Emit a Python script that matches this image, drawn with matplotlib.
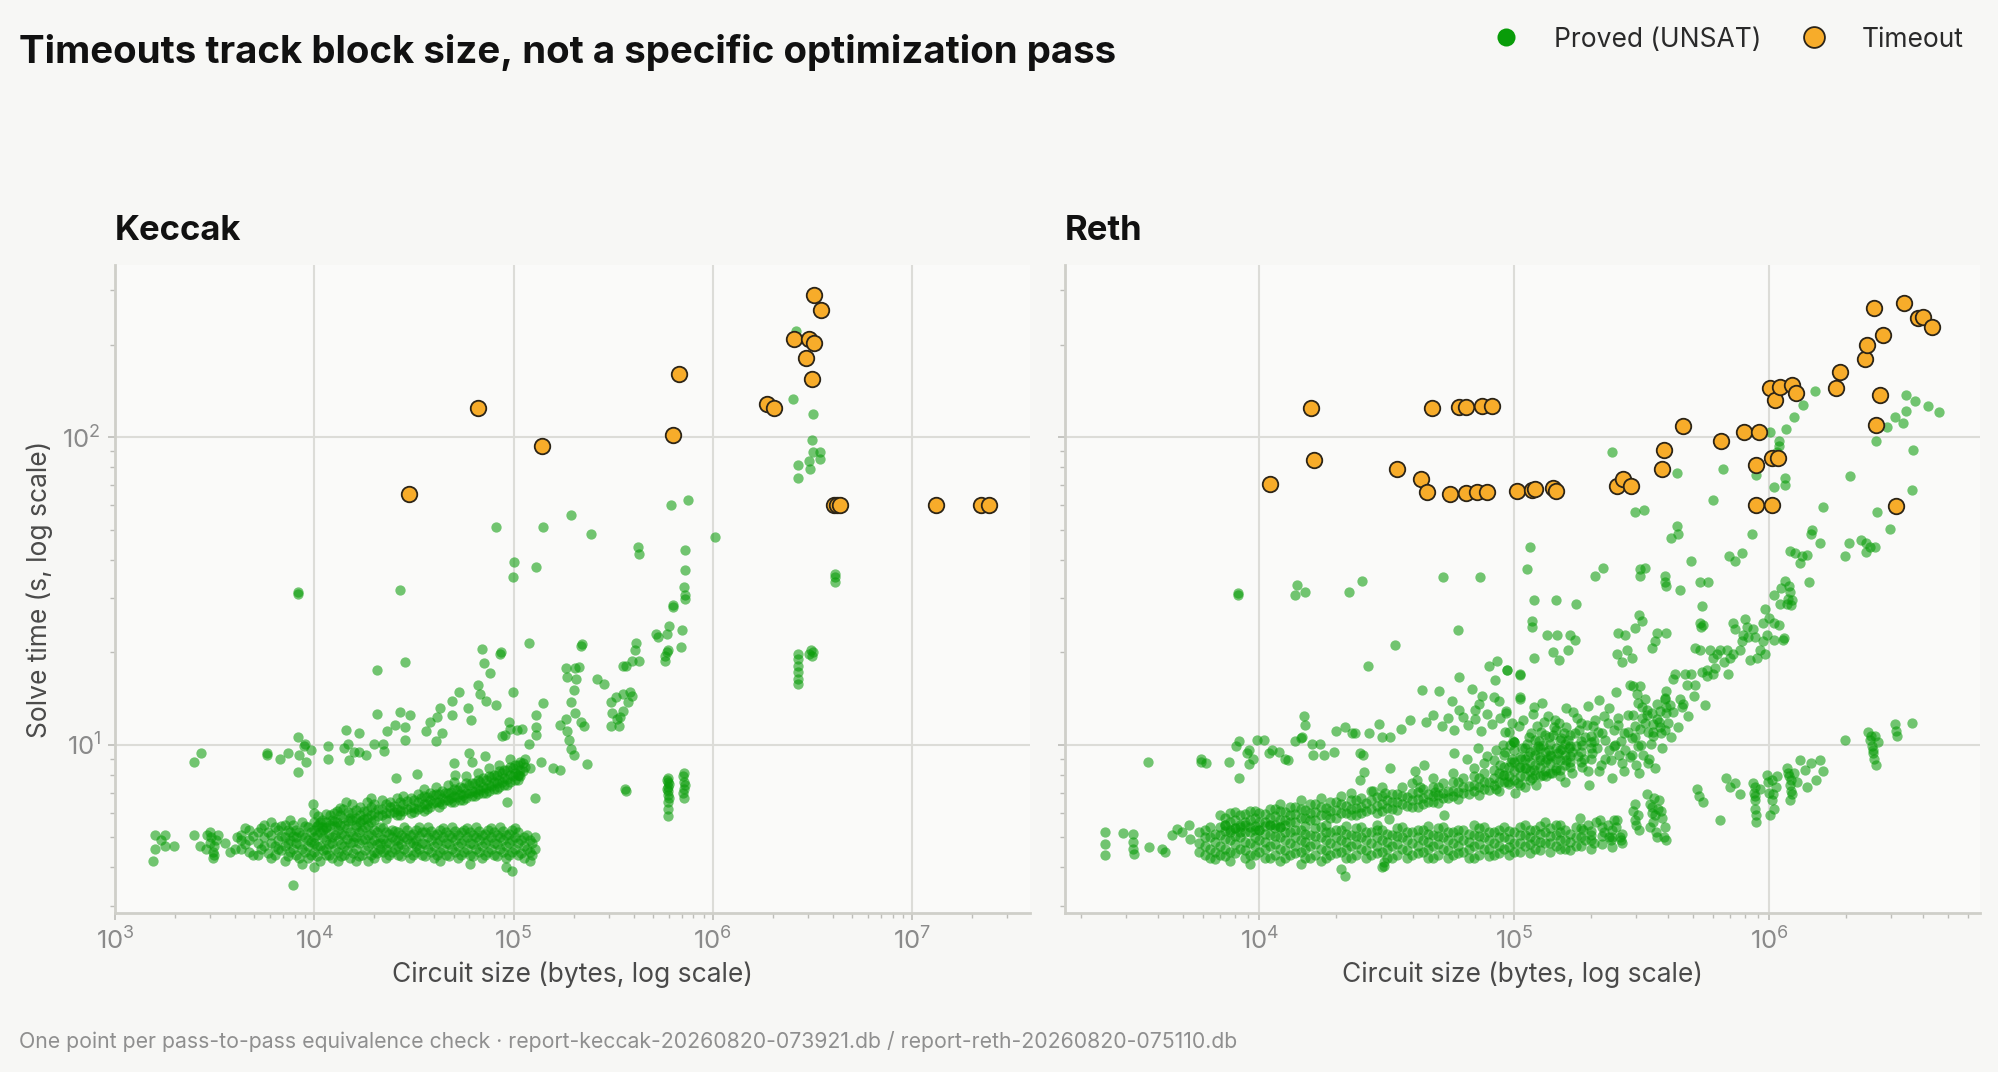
import numpy as np
import matplotlib
matplotlib.use('Agg')
import matplotlib.pyplot as plt
from matplotlib.lines import Line2D

#=== Data: (circuit size in bytes, solve time in s) ===

keccak_timeout = [
    (29900, 65.6), (66400, 124.8), (139000, 93.6), (673000, 160), (632000, 102),
    (1860000, 128.6), (2030000, 124.8), (2560000, 208), (3030000, 209), (3210000, 202),
    (2950000, 181), (3160000, 155), (3210000, 291), (3490000, 259),
    (4050000, 60.1), (4200000, 60.1), (4350000, 60.1), (13200000, 60.1),
    (22100000, 60), (24400000, 60),
]

keccak_sparse = [
    (1590, 5.1), (1590, 4.6), (1550, 4.2), (1780, 5.1), (1780, 4.7), (1980, 4.7), (1700, 4.9),
    (2500, 8.8), (2690, 9.4), (2500, 5.1), (2660, 4.7),
    (2900, 5.1), (3000, 4.8), (3100, 4.5), (3050, 5.0), (3150, 4.7), (3100, 4.3), (3000, 5.2),
    (3200, 4.9), (2850, 4.6), (3300, 5.1), (3550, 4.8), (3150, 4.4), (3800, 4.5), (4000, 4.6), (4100, 5.0),
    (5800, 9.3), (5800, 9.4), (6700, 9.0), (7400, 9.4), (8300, 10.6), (9000, 10.1), (9600, 9.6),
    (8400, 9.3), (8900, 9.9), (9100, 8.8), (8300, 8.15),
    (11700, 9.9), (11700, 9.0), (14400, 11.2), (14100, 9.8), (14700, 10.1), (15000, 8.9),
    (15800, 9.5), (16800, 10.9), (16800, 9.5), (18100, 9.3),
    (20000, 10.1), (20700, 12.6), (22200, 10.1), (22400, 9.55), (20700, 17.5), (23300, 11.1),
    (25400, 11.6), (26900, 12.8), (28700, 11.4), (28700, 10.4), (30400, 12.5), (28700, 18.6), (26800, 31.8),
    (8300, 31.0), (8300, 31.3),
    (36200, 11.1), (38300, 11.9), (40600, 10.3), (41200, 12.3), (43000, 13.2), (43800, 10.9),
    (49200, 12.5), (49200, 13.9), (53500, 14.9), (59000, 13.2), (61200, 12.0),
    (66000, 15.6), (67600, 14.6), (73000, 13.9), (81900, 13.5), (69500, 20.5), (70800, 18.5),
    (75900, 17.1), (85800, 19.8), (86500, 20.0), (99000, 14.9), (119000, 21.4),
    (130000, 12.5), (130000, 11.4), (141000, 13.7), (119000, 10.1), (130000, 10.8),
    (100000, 39.4), (98900, 35.1), (130000, 38.0),
    (50000, 8.7), (51000, 8.0), (59600, 9.4), (61900, 8.8), (72200, 9.2), (94400, 11.9),
    (96200, 11.3), (90800, 10.8), (87400, 10.7), (104000, 11.2), (110000, 11.3),
    (121000, 8.4), (137000, 8.8), (158000, 8.4), (171000, 8.3), (171000, 11.6), (128000, 6.7),
    (92600, 6.5), (106000, 8.0),
    (9900, 6.44), (14400, 6.5), (19200, 6.74), (25600, 7.8), (32600, 8.05), (7850, 3.5),
    (81500, 51.2), (140000, 51.0),
    (184000, 12.1), (186000, 11.1), (190000, 10.4), (195000, 9.7), (200000, 9.3), (219000, 11.9),
    (227000, 11.5), (204000, 12.7), (195000, 13.8), (200000, 15.1), (207000, 16.4), (186000, 16.6),
    (204000, 17.8), (184000, 17.8), (214000, 17.9), (219000, 21.0), (221000, 21.2),
    (234000, 8.65), (263000, 16.4), (286000, 15.8),
    (308000, 13.8), (327000, 14.3), (312000, 12.7), (330000, 12.1), (339000, 11.5), (354000, 12.9),
    (375000, 13.8), (394000, 14.4), (386000, 14.8), (354000, 14.6), (344000, 12.3), (310000, 11.5),
    (355000, 18.1), (366000, 18.1), (407000, 20.4), (414000, 21.4), (427000, 18.7), (394000, 18.8),
    (519000, 23.0), (533000, 22.5), (589000, 22.9), (602000, 24.3), (575000, 19.4), (590000, 20.0),
    (597000, 20.4), (577000, 18.7), (703000, 23.7), (693000, 20.8),
    (194000, 56), (245000, 48.5), (1020000, 47.5), (420000, 44), (428000, 41.6),
    (728000, 43), (728000, 37), (720000, 32.5), (728000, 30.6), (725000, 29.7), (630000, 28.5), (630000, 28.0),
    (754000, 62.5), (614000, 60.3),
    (363000, 7.2), (366000, 7.1),
    (597000, 7.83), (597000, 7.57), (597000, 7.32), (597000, 7.08), (597000, 6.85), (597000, 6.52),
    (597000, 6.2), (597000, 5.89), (590000, 7.7), (590000, 7.2), (600000, 6.7), (600000, 7.45),
    (718000, 8.1), (718000, 7.57), (718000, 7.2), (718000, 6.73), (710000, 7.9), (725000, 7.4), (712000, 7.0),
    (2670000, 19.7), (2670000, 19.0), (2670000, 18.1), (2670000, 17.2), (2670000, 16.4), (2670000, 15.8),
    (3120000, 20.4), (3050000, 19.7), (3200000, 20.0), (3150000, 19.5),
    (4100000, 36), (4100000, 33.9), (4100000, 35),
    (2540000, 133), (2630000, 222), (3200000, 119), (3160000, 98),
    (3180000, 89.8), (3440000, 89.6), (3050000, 83.4), (3440000, 84.9), (2670000, 81.3),
    (3090000, 78.8), (2670000, 73.8),
]

keccak_low_band = [
    (4300, 4.6), (4300, 5.1), (4300, 4.9), (4700, 5.3), (4700, 4.5), (4700, 4.9),
    (5200, 4.8), (5200, 5.2), (5200, 4.4), (5600, 5.5), (5600, 4.7), (5600, 5.0),
    (6100, 4.3), (6100, 5.1), (6100, 4.8), (6100, 5.6), (6600, 4.6), (6600, 5.3), (6600, 4.9),
    (7100, 4.2), (7100, 5.0), (7100, 5.5), (7100, 4.7), (7600, 4.5), (7600, 5.2), (7600, 4.9), (7600, 5.7),
    (8100, 4.4), (8100, 4.8), (8100, 5.3), (8100, 5.0), (8700, 4.1), (8700, 4.6), (8700, 5.1), (8700, 5.6),
    (9300, 4.9), (9300, 4.3), (9300, 5.4), (9300, 4.7), (10000, 4.0), (10000, 4.5), (10000, 5.0), (10000, 5.3), (10000, 4.8),
    (10700, 4.2), (10700, 4.7), (10700, 5.2), (10700, 5.6), (11500, 4.4), (11500, 4.9), (11500, 5.4), (11500, 4.6),
    (12300, 4.3), (12300, 5.0), (12300, 5.7), (12300, 4.8), (13200, 4.5), (13200, 4.9), (13200, 5.3), (13200, 4.2),
    (14100, 4.7), (14100, 5.1), (14100, 5.5), (14100, 4.4), (15100, 4.3), (15100, 4.8), (15100, 5.2), (15100, 5.8),
    (16200, 4.6), (16200, 5.0), (16200, 5.4), (16200, 4.2), (17400, 4.4), (17400, 4.9), (17400, 5.3), (17400, 5.7),
    (18600, 4.2), (18600, 4.7), (18600, 5.1), (18600, 5.5), (20000, 4.5), (20000, 4.9), (20000, 5.3), (20000, 4.3),
    (21400, 4.6), (21400, 5.0), (21400, 5.4), (21400, 4.8), (23000, 4.3), (23000, 4.8), (23000, 5.2), (23000, 4.6),
    (24600, 4.5), (24600, 5.0), (24600, 5.3), (26400, 4.4), (26400, 4.9), (26400, 5.2), (26400, 4.7),
    (28300, 4.6), (28300, 5.0), (28300, 5.4), (30300, 4.3), (30300, 4.8), (30300, 5.1),
    (32500, 4.5), (32500, 4.9), (32500, 5.3), (32500, 4.7), (34800, 4.4), (34800, 4.8), (34800, 5.2),
    (37300, 4.6), (37300, 5.0), (37300, 5.4), (40000, 4.3), (40000, 4.7), (40000, 5.1),
    (42900, 4.5), (42900, 4.9), (42900, 5.3), (42900, 4.2), (46000, 4.4), (46000, 4.8), (46000, 5.2),
    (49300, 4.6), (49300, 5.0), (49300, 5.4), (52800, 4.3), (52800, 4.7), (52800, 5.1),
    (56600, 4.5), (56600, 4.9), (56600, 5.3), (60700, 4.4), (60700, 4.8), (60700, 5.2), (60700, 4.1),
    (65000, 4.6), (65000, 5.0), (65000, 5.4), (69700, 4.3), (69700, 4.7), (69700, 5.1),
    (74700, 4.5), (74700, 4.9), (74700, 5.3), (80000, 4.4), (80000, 4.8), (80000, 5.2),
    (85800, 4.6), (85800, 5.0), (85800, 5.4), (92000, 4.3), (92000, 4.7), (92000, 5.1), (92000, 4.0),
    (98600, 4.5), (98600, 4.9), (98600, 5.3), (98600, 3.9), (105000, 4.4), (105000, 4.8), (105000, 5.2),
    (113000, 4.3), (113000, 4.7), (113000, 5.0), (121000, 4.5), (121000, 4.9), (121000, 4.2),
    (128000, 4.6), (128000, 5.0),
]

keccak_low_fill = [
    (4500, 4.75), (4500, 5.35), (4950, 4.4), (4950, 5.05), (5400, 4.6), (5400, 5.35), (5850, 4.45), (5850, 5.2),
    (6350, 4.7), (6350, 5.4), (6350, 4.4), (6850, 5.05), (6850, 4.55), (6850, 5.45), (7350, 4.8), (7350, 4.35), (7350, 5.3),
    (7850, 4.6), (7850, 5.05), (7850, 5.5), (8400, 4.3), (8400, 4.75), (8400, 5.2), (9000, 4.5), (9000, 5.0), (9000, 5.45),
    (9650, 4.4), (9650, 4.85), (9650, 5.2), (10350, 4.35), (10350, 4.7), (10350, 5.1), (10350, 5.45),
    (11100, 4.55), (11100, 5.0), (11100, 5.3), (11900, 4.4), (11900, 4.75), (11900, 5.15), (12750, 4.6), (12750, 5.1), (12750, 5.45),
    (13650, 4.35), (13650, 4.75), (13650, 5.15), (14600, 4.55), (14600, 4.95), (14600, 5.35), (15650, 4.45), (15650, 4.85), (15650, 5.05),
    (16800, 4.35), (16800, 4.8), (16800, 5.2), (18000, 4.55), (18000, 4.95), (18000, 5.4), (19300, 4.4), (19300, 4.8), (19300, 5.15),
    (20700, 4.45), (20700, 4.75), (20700, 5.2), (22200, 4.5), (22200, 4.95), (22200, 5.35), (23800, 4.4), (23800, 4.8), (23800, 5.15),
    (25500, 4.6), (25500, 4.9), (25500, 5.25), (27300, 4.35), (27300, 4.75), (27300, 5.1), (29300, 4.5), (29300, 4.95), (29300, 5.3),
    (31400, 4.4), (31400, 4.8), (31400, 5.15), (33600, 4.6), (33600, 5.05), (33600, 5.4), (36000, 4.35), (36000, 4.75), (36000, 5.2),
    (38600, 4.5), (38600, 4.9), (38600, 5.25), (41400, 4.4), (41400, 4.8), (41400, 5.15), (44400, 4.6), (44400, 5.0), (44400, 5.35),
    (47600, 4.35), (47600, 4.75), (47600, 5.1), (51000, 4.5), (51000, 4.9), (51000, 5.25), (54700, 4.4), (54700, 4.8), (54700, 5.2),
    (58600, 4.6), (58600, 5.0), (58600, 5.35), (62800, 4.35), (62800, 4.75), (62800, 5.1), (67300, 4.5), (67300, 4.9), (67300, 5.25),
    (72200, 4.4), (72200, 4.8), (72200, 5.15), (77300, 4.6), (77300, 5.0), (77300, 5.35), (82900, 4.35), (82900, 4.75), (82900, 5.1),
    (88900, 4.5), (88900, 4.9), (88900, 5.25), (95300, 4.4), (95300, 4.8), (95300, 5.15), (101500, 4.6), (101500, 5.0), (101500, 5.35),
    (109000, 4.45), (109000, 4.9), (117000, 4.6), (117000, 5.1), (124000, 4.4), (124000, 4.8),
]

keccak_high_band = [
    (10000, 5.6), (10000, 6.0), (11000, 5.7), (11000, 5.4), (12000, 5.9), (12000, 5.5),
    (13000, 6.1), (13000, 5.6), (14000, 5.8), (14000, 6.2), (15500, 5.7), (15500, 6.0), (15500, 6.4),
    (17000, 5.9), (17000, 6.3), (17000, 5.6), (18500, 6.1), (18500, 5.8), (18500, 6.5),
    (20000, 6.0), (20000, 6.4), (20000, 5.7), (22000, 6.2), (22000, 5.9), (22000, 6.6),
    (24000, 6.0), (24000, 6.5), (24000, 6.3), (26000, 6.2), (26000, 6.7), (26000, 5.9),
    (28000, 6.4), (28000, 6.1), (28000, 6.8), (30500, 6.3), (30500, 6.7), (30500, 6.0),
    (33000, 6.5), (33000, 6.9), (33000, 6.2), (35500, 6.4), (35500, 6.8), (35500, 6.1), (35500, 7.2),
    (38000, 6.6), (38000, 7.0), (38000, 6.3), (41000, 6.5), (41000, 6.9), (41000, 7.3),
    (44000, 6.7), (44000, 7.1), (44000, 6.4), (47000, 6.6), (47000, 7.0), (47000, 7.4),
    (50500, 6.8), (50500, 7.2), (50500, 6.5), (50500, 7.6), (54000, 6.9), (54000, 7.3), (54000, 6.6),
    (58000, 7.0), (58000, 7.5), (58000, 6.7), (58000, 7.9), (62000, 7.1), (62000, 7.5), (62000, 6.8),
    (66000, 7.2), (66000, 7.7), (66000, 6.9), (66000, 8.1), (70000, 7.3), (70000, 7.8), (70000, 7.0),
    (75000, 7.4), (75000, 7.9), (75000, 7.1), (75000, 8.4), (80000, 7.6), (80000, 8.0), (80000, 7.2),
    (85000, 7.7), (85000, 8.2), (85000, 7.3), (85000, 8.6), (90000, 7.8), (90000, 8.3), (90000, 7.4),
    (96000, 8.0), (96000, 8.5), (96000, 7.6), (96000, 9.0), (102000, 8.1), (102000, 8.6), (102000, 7.7),
    (108000, 8.3), (108000, 8.8), (108000, 7.9), (114000, 8.5), (114000, 9.0),
]

keccak_high_fill = [
    (10500, 5.5), (10500, 5.85), (11500, 5.6), (11500, 5.95), (11500, 5.35), (12500, 5.65), (12500, 6.0),
    (13500, 5.5), (13500, 5.9), (13500, 6.25), (14800, 5.65), (14800, 6.05), (16200, 5.8), (16200, 6.15), (16200, 5.5),
    (17700, 5.75), (17700, 6.1), (19200, 5.9), (19200, 6.3), (19200, 5.6), (21000, 5.85), (21000, 6.2),
    (23000, 6.0), (23000, 6.4), (23000, 5.75), (25000, 6.05), (25000, 6.35), (27000, 6.1), (27000, 6.5), (27000, 5.9),
    (29200, 6.2), (29200, 6.55), (31700, 6.25), (31700, 6.6), (31700, 6.05), (34200, 6.3), (34200, 6.7),
    (36800, 6.4), (36800, 6.75), (36800, 6.2), (39500, 6.45), (39500, 6.85), (42500, 6.5), (42500, 6.9), (42500, 6.3),
    (45500, 6.6), (45500, 7.0), (48700, 6.7), (48700, 7.05), (48700, 6.5), (52200, 6.75), (52200, 7.15),
    (56000, 6.85), (56000, 7.25), (56000, 6.6), (60000, 6.95), (60000, 7.4), (64000, 7.05), (64000, 7.5), (64000, 6.8),
    (68000, 7.15), (68000, 7.6), (72500, 7.25), (72500, 7.7), (72500, 7.0), (77500, 7.35), (77500, 7.85),
    (82500, 7.5), (82500, 8.0), (82500, 7.2), (87500, 7.6), (87500, 8.1), (93000, 7.75), (93000, 8.3), (93000, 7.4),
    (99000, 7.9), (99000, 8.4), (105000, 8.0), (105000, 8.6), (105000, 7.7), (111000, 8.2), (111000, 8.75),
]

reth_timeout = [
    (11000, 70.4), (15900, 124), (16400, 84.3), (34800, 79), (43000, 73.2), (45400, 66.2),
    (47400, 124.8), (56000, 65.6), (60500, 125.6), (64600, 125.6), (64600, 65.8), (71400, 66.4),
    (78000, 66.4), (74600, 126.5), (81500, 126.5), (102000, 66.7), (117000, 67.6), (120000, 67.8),
    (142000, 68.5), (146000, 66.9), (252000, 69.5), (267000, 73.3), (286000, 69.2),
    (378000, 78.9), (387000, 91.2), (460000, 108.6), (644000, 97), (794000, 104), (910000, 104),
    (887000, 81.5), (1020000, 85.8), (1080000, 85.8), (887000, 60.3), (1020000, 60.3),
    (1010000, 145), (1050000, 132), (1100000, 146), (1230000, 148), (1270000, 139),
    (1820000, 145), (1890000, 162.5), (2380000, 179.5), (2420000, 200), (2800000, 215),
    (2580000, 264), (3370000, 274), (3840000, 245), (3990000, 246), (4360000, 228),
    (2710000, 137), (2620000, 110), (3140000, 59.8),
]

reth_sparse = [
    (2490, 5.2), (2490, 4.76), (2490, 4.37), (2910, 5.17), (3200, 5.14), (3200, 4.83), (3200, 4.59),
    (3220, 4.43), (3680, 4.65), (4150, 4.59), (4270, 4.48), (4540, 5.08), (4750, 5.33), (4980, 5.2),
    (5280, 5.47), (5360, 4.95),
    (3660, 8.8), (5900, 9.0), (5900, 8.8), (6200, 8.7),
    (7600, 8.8), (8100, 9.9), (8300, 10.3), (8300, 7.8), (8950, 9.4), (9100, 9.6), (9400, 9.0),
    (9800, 10.4), (10400, 10.4), (10900, 9.4), (11200, 9.6), (11900, 9.5), (12600, 9.0), (13000, 8.9), (9100, 8.65),
    (13800, 10.3), (14500, 10.5), (14700, 10.6), (14900, 12.4), (15100, 11.6), (16100, 10.1), (16300, 9.3),
    (17300, 10.1), (17900, 9.3), (19700, 9.5), (19900, 11.1), (21700, 11.4), (23100, 10.9), (23800, 10.9),
    (24900, 9.4), (25500, 9.3), (25700, 8.14), (24900, 7.68), (26800, 10.9), (29400, 11.7), (30300, 10.6),
    (32600, 10.6), (32600, 8.4), (40900, 8.2), (44100, 8.6), (41500, 7.68), (42800, 7.3),
    (8250, 30.8), (8250, 31.1), (14100, 33), (13800, 30.7), (15100, 31.5), (22500, 31.3), (25300, 34.2),
    (52500, 35.1), (73100, 35.2), (60100, 23.7), (34100, 21.1), (26700, 18.0),
    (79200, 18.1), (85500, 18.8), (93600, 17.5), (84100, 16.3), (60500, 16.6), (68200, 15.2), (43400, 15.1),
    (50500, 15.0), (57000, 13.9), (74600, 14.4), (83000, 14.3), (86900, 13.9), (72400, 13.6), (60500, 13.0),
    (70300, 13.0), (93100, 12.7), (105000, 14.3), (105000, 16.9),
    (45000, 11.9), (48000, 12.5), (52000, 11.5), (55000, 12.2), (58000, 11.2), (63000, 12.3), (66000, 11.6),
    (70000, 12.1), (74000, 11.1), (78000, 12.6), (82000, 11.7), (88000, 12.2), (92000, 11.0), (98000, 11.8),
    (36000, 11.3), (39000, 12.0), (99000, 10.3), (90000, 10.0), (85000, 9.6), (78000, 9.2), (72000, 9.8),
    (65000, 9.0), (58000, 9.4),
    (49000, 7.03), (52800, 5.9), (32100, 5.75), (28000, 7.1), (31200, 6.95),
    (21600, 3.74), (30800, 4.05), (30800, 4.15),
    (1510000, 141.5), (1350000, 127), (1250000, 116), (1160000, 106), (1090000, 97.3), (1090000, 93.5),
    (1070000, 89.3), (1010000, 104), (887000, 75.4), (1040000, 68.7), (1150000, 73.8), (1150000, 69.8),
    (1630000, 59.4), (1470000, 49.8), (1450000, 48.6), (1580000, 45.4),
    (1200000, 42.7), (1260000, 42.0), (1340000, 41.1), (1400000, 41.3), (1320000, 38.9), (1430000, 33.9),
    (1150000, 34.2), (1190000, 32.9), (1200000, 31.4), (1180000, 29.7), (1110000, 32.4), (1040000, 30.6),
    (1100000, 28.6), (1170000, 28.6), (1220000, 28.5), (1230000, 29.5),
    (961000, 27.7), (1000000, 25.9), (1040000, 24.9), (946000, 24.9), (1140000, 22.3), (1090000, 24.5),
    (723000, 24.9), (733000, 23.8), (803000, 25.7), (820000, 24.2), (865000, 23.8), (879000, 22.4),
    (828000, 22.4), (791000, 22.7), (779000, 21.7), (946000, 21.7), (982000, 22.7), (1040000, 22.0),
    (1135000, 22.0), (918000, 20.4), (961000, 19.8), (891000, 19.2), (839000, 18.9), (767000, 20.4),
    (723000, 19.8), (701000, 19.2), (681000, 20.4), (641000, 20.4), (621000, 19.8), (603000, 19.2),
    (585000, 20.4), (661000, 18.6), (691000, 17.0), (612000, 17.8), (568000, 16.7), (603000, 17.0),
    (495000, 17.0), (474000, 15.7), (467000, 17.0), (427000, 17.0), (395000, 15.0), (420000, 16.4),
    (543000, 17.2), (512000, 15.7), (560000, 13.5),
    (390000, 14.1), (408000, 13.5), (446000, 14.1), (453000, 13.3), (372000, 12.9), (395000, 13.3),
    (361000, 12.1), (372000, 11.4), (390000, 11.2), (346000, 12.7), (325000, 14.1), (330000, 12.5),
    (349000, 11.7), (335000, 11.0), (351000, 10.7), (311000, 15.5), (302000, 14.6), (291000, 15.5),
    (306000, 13.7), (316000, 13.3), (293000, 12.5),
    (256000, 23.1), (272000, 22.7), (252000, 19.8), (264000, 18.6), (276000, 20.4), (288000, 19.2),
    (309000, 26.5), (316000, 25.3), (297000, 23.9), (361000, 23.1), (356000, 21.7), (346000, 20.7),
    (395000, 23.1), (512000, 20.7), (535000, 24.9), (551000, 24.5), (535000, 20.4), (568000, 17.5),
    (207000, 35.5), (223000, 37.5), (175000, 28.6), (146000, 29.5), (119000, 29.5), (117000, 25.3),
    (117000, 24.2), (134000, 22.7), (147000, 22.7), (165000, 22.7), (173000, 22.0), (163000, 20.4),
    (142000, 20.1), (149000, 18.9), (119000, 19.2), (105000, 17.0), (105000, 14.1), (119000, 13.3),
    (92700, 12.9), (93300, 17.5),
    (115000, 44), (112000, 37.2), (241000, 89.3), (297000, 57.1), (322000, 58.1), (433000, 76.6),
    (436000, 51.3), (440000, 48.3), (410000, 47.1), (492000, 39.5), (603000, 62.7), (656000, 79),
    (857000, 48.3), (693000, 41.1), (733000, 39.5), (779000, 42.0),
    (446000, 31.8), (535000, 33.9), (577000, 33.9), (543000, 28.2), (540000, 24.2),
    (390000, 35.5), (392000, 32.9), (388000, 33.9), (325000, 37.5), (311000, 35.5), (311000, 37.2),
    (2070000, 75), (2620000, 97.3), (3650000, 90.6), (3610000, 67.6),
    (3110000, 116.6), (3440000, 122), (2900000, 108), (3330000, 111),
    (3440000, 137), (3720000, 131), (4200000, 126), (4640000, 120.6),
    (2640000, 57.3), (2960000, 50.2),
    (2060000, 45.4), (2290000, 46.5), (2390000, 45.4), (2480000, 44.0), (2600000, 44.0), (2390000, 42.5),
    (1980000, 41.1),
]

reth_low_band = [
    (5800, 4.8), (5800, 5.2), (5800, 4.5), (6400, 5.0), (6400, 4.6), (6400, 5.4), (6400, 4.3),
    (7000, 4.7), (7000, 5.1), (7000, 4.4), (7700, 4.9), (7700, 5.3), (7700, 4.5), (7700, 4.2),
    (8400, 4.6), (8400, 5.0), (8400, 5.4), (9200, 4.8), (9200, 5.2), (9200, 4.4), (9200, 4.1),
    (10000, 4.5), (10000, 4.9), (10000, 5.3), (11000, 4.7), (11000, 5.1), (11000, 4.3), (11000, 5.5),
    (12000, 4.6), (12000, 5.0), (12000, 5.4), (12000, 4.2), (13200, 4.8), (13200, 5.2), (13200, 4.4),
    (14500, 4.5), (14500, 4.9), (14500, 5.3), (14500, 4.1), (15800, 4.7), (15800, 5.1), (15800, 4.3),
    (17400, 4.6), (17400, 5.0), (17400, 5.4), (17400, 4.2), (19000, 4.8), (19000, 5.2), (19000, 4.4),
    (20900, 4.5), (20900, 4.9), (20900, 5.3), (20900, 3.95), (22900, 4.7), (22900, 5.1), (22900, 4.3),
    (25100, 4.6), (25100, 5.0), (25100, 5.4), (27500, 4.8), (27500, 5.2), (27500, 4.4),
    (30200, 4.5), (30200, 4.9), (30200, 5.3), (30200, 4.0), (33100, 4.7), (33100, 5.1), (33100, 4.3),
    (36300, 4.6), (36300, 5.0), (36300, 5.4), (39800, 4.8), (39800, 5.2), (39800, 4.4),
    (43700, 4.5), (43700, 4.9), (43700, 5.3), (47900, 4.7), (47900, 5.1), (47900, 4.3),
    (52500, 4.6), (52500, 5.0), (52500, 5.4), (57500, 4.8), (57500, 5.2), (57500, 4.4),
    (63100, 4.5), (63100, 4.9), (63100, 5.3), (69200, 4.7), (69200, 5.1), (69200, 4.3), (69200, 5.5),
    (75900, 4.6), (75900, 5.0), (75900, 5.4), (83200, 4.8), (83200, 5.2), (83200, 4.4),
    (91200, 4.6), (91200, 5.0), (91200, 5.4), (100000, 4.8), (100000, 5.2), (100000, 4.5),
    (110000, 4.7), (110000, 5.1), (110000, 5.5), (120000, 4.9), (120000, 5.3), (120000, 4.6),
    (132000, 4.8), (132000, 5.2), (132000, 5.6), (145000, 4.7), (145000, 5.1), (145000, 5.5),
    (158000, 4.9), (158000, 5.3), (158000, 4.6), (174000, 5.0), (174000, 5.4), (174000, 4.7),
    (181000, 5.8), (186000, 5.3), (190000, 4.9), (195000, 5.5), (200000, 5.1), (205000, 4.8), (209000, 5.6),
    (217000, 5.7), (225000, 5.2), (232000, 5.5), (240000, 4.9), (250000, 5.4), (259000, 5.0),
    (293000, 6.1), (298000, 5.7), (305000, 5.9), (309000, 5.3),
    (330000, 6.9), (340000, 6.4), (345000, 6.0), (350000, 5.6), (360000, 5.2), (370000, 6.6),
    (380000, 5.8), (390000, 5.4), (395000, 4.9), (352000, 6.7), (365000, 6.2),
    (519000, 7.2), (530000, 6.8), (551000, 6.5), (641000, 5.7),
    (677000, 7.8), (700000, 7.3), (730000, 7.5), (767000, 6.9),
    (866000, 7.5), (870000, 7.0), (875000, 6.6), (880000, 6.2), (885000, 5.9), (890000, 5.6), (918000, 7.2),
    (977000, 8.0), (990000, 7.6), (1000000, 7.0), (1020000, 6.6), (1040000, 6.2), (1060000, 7.3),
    (1070000, 7.9), (1010000, 5.9),
    (1170000, 8.4), (1190000, 7.9), (1210000, 7.4), (1230000, 6.9), (1250000, 8.1), (1280000, 7.6),
    (1200000, 6.6), (1220000, 7.1),
    (1320000, 8.9), (1380000, 8.3), (1450000, 8.7), (1520000, 7.7), (1580000, 8.9), (1620000, 8.2), (1400000, 7.3),
    (1980000, 10.4),
    (2440000, 11.0), (2480000, 10.4), (2520000, 9.9), (2550000, 9.4), (2580000, 9.0), (2620000, 8.6),
    (2670000, 10.2), (2600000, 10.7),
    (3110000, 11.7), (3130000, 11.1), (3160000, 10.7), (3610000, 11.8),
    (340000, 5.4), (345000, 6.3), (355000, 5.9), (362000, 5.0), (375000, 6.1), (385000, 5.0),
    (300000, 5.5), (296000, 6.4), (252000, 5.7), (262000, 4.9), (236000, 5.0), (245000, 5.7),
    (875000, 7.3), (880000, 6.8), (1020000, 7.7), (1030000, 6.9), (1180000, 8.1), (1220000, 7.7),
    (2500000, 10.7), (2560000, 9.6),
]

reth_low_fill = [
    (6100, 4.4), (6100, 4.7), (6100, 5.0), (6100, 5.3), (6700, 4.5), (6700, 4.85), (6700, 5.15), (6700, 4.25),
    (7350, 4.35), (7350, 4.6), (7350, 4.95), (7350, 5.25), (7350, 5.5), (8050, 4.45), (8050, 4.75), (8050, 5.05), (8050, 5.35),
    (8800, 4.3), (8800, 4.55), (8800, 4.85), (8800, 5.2), (8800, 5.5), (9600, 4.4), (9600, 4.7), (9600, 5.0), (9600, 5.3),
    (10500, 4.3), (10500, 4.6), (10500, 4.85), (10500, 5.15), (10500, 5.45), (11500, 4.4), (11500, 4.75), (11500, 5.05), (11500, 5.35),
    (12600, 4.3), (12600, 4.55), (12600, 4.9), (12600, 5.2), (12600, 5.5), (13850, 4.45), (13850, 4.7), (13850, 5.0), (13850, 5.3),
    (15150, 4.3), (15150, 4.6), (15150, 4.85), (15150, 5.15), (15150, 5.45), (16600, 4.4), (16600, 4.75), (16600, 5.05), (16600, 5.35),
    (18200, 4.3), (18200, 4.55), (18200, 4.9), (18200, 5.2), (18200, 5.5), (19950, 4.45), (19950, 4.7), (19950, 5.0), (19950, 5.3),
    (21900, 4.3), (21900, 4.6), (21900, 4.85), (21900, 5.15), (21900, 5.45), (24000, 4.4), (24000, 4.75), (24000, 5.05), (24000, 5.35),
    (26300, 4.3), (26300, 4.55), (26300, 4.9), (26300, 5.2), (28850, 4.45), (28850, 4.7), (28850, 5.0), (28850, 5.3), (28850, 5.5),
    (31650, 4.3), (31650, 4.6), (31650, 4.85), (31650, 5.15), (34700, 4.4), (34700, 4.75), (34700, 5.05), (34700, 5.35),
    (38050, 4.3), (38050, 4.55), (38050, 4.9), (38050, 5.2), (41750, 4.45), (41750, 4.7), (41750, 5.0), (41750, 5.3),
    (45800, 4.3), (45800, 4.6), (45800, 4.85), (45800, 5.15), (45800, 5.45), (50200, 4.4), (50200, 4.75), (50200, 5.05), (50200, 5.35),
    (55000, 4.3), (55000, 4.55), (55000, 4.9), (55000, 5.2), (60300, 4.45), (60300, 4.7), (60300, 5.0), (60300, 5.3),
    (66100, 4.3), (66100, 4.6), (66100, 4.85), (66100, 5.15), (72500, 4.4), (72500, 4.75), (72500, 5.05), (72500, 5.35),
    (79500, 4.35), (79500, 4.6), (79500, 4.9), (79500, 5.2), (87200, 4.45), (87200, 4.7), (87200, 5.0), (87200, 5.3),
    (95500, 4.4), (95500, 4.65), (95500, 4.95), (95500, 5.25), (105000, 4.5), (105000, 4.8), (105000, 5.1), (105000, 5.4),
    (115000, 4.45), (115000, 4.75), (115000, 5.0), (115000, 5.3), (126000, 4.55), (126000, 4.85), (126000, 5.15), (126000, 5.45),
    (138000, 4.5), (138000, 4.8), (138000, 5.05), (138000, 5.35), (151000, 4.6), (151000, 4.9), (151000, 5.2), (151000, 5.5),
    (166000, 4.55), (166000, 4.85), (166000, 5.15), (182000, 4.7), (182000, 5.0), (182000, 5.35),
    (200000, 4.6), (200000, 4.9), (200000, 5.25), (220000, 4.75), (220000, 5.05), (220000, 5.4),
    (242000, 4.65), (242000, 5.0), (242000, 5.3), (265000, 4.8), (265000, 5.15),
]

reth_high_band = [
    (7000, 5.4), (7000, 5.9), (7700, 5.6), (7700, 5.2), (7700, 6.0), (8400, 5.5), (8400, 5.9), (8400, 5.2),
    (9200, 5.7), (9200, 6.1), (9200, 5.4), (10000, 5.6), (10000, 6.0), (10000, 5.3),
    (11000, 5.8), (11000, 6.2), (11000, 5.5), (12000, 5.7), (12000, 6.1), (12000, 5.4), (12000, 6.4),
    (13200, 5.9), (13200, 6.3), (13200, 5.6), (14500, 5.8), (14500, 6.2), (14500, 6.6),
    (15800, 6.0), (15800, 6.4), (15800, 5.7), (17400, 5.9), (17400, 6.3), (17400, 6.7),
    (19000, 6.1), (19000, 6.5), (19000, 5.8), (20900, 6.0), (20900, 6.4), (20900, 6.8),
    (22900, 6.2), (22900, 6.6), (22900, 5.9), (22900, 7.0), (25100, 6.3), (25100, 6.7), (25100, 6.0),
    (27500, 6.2), (27500, 6.6), (27500, 7.1), (30200, 6.4), (30200, 6.8), (30200, 6.1), (30200, 7.3),
    (33100, 6.5), (33100, 6.9), (33100, 6.2), (36300, 6.4), (36300, 6.8), (36300, 7.3),
    (39800, 6.6), (39800, 7.0), (39800, 6.3), (39800, 7.5), (43700, 6.7), (43700, 7.2), (43700, 6.4),
    (47900, 6.8), (47900, 7.3), (47900, 7.8), (47900, 6.5), (52500, 7.0), (52500, 7.5), (52500, 6.7),
    (57500, 7.1), (57500, 7.6), (57500, 8.1), (57500, 6.8), (63100, 7.3), (63100, 7.8), (63100, 7.0),
    (69200, 7.4), (69200, 7.9), (69200, 8.4), (69200, 7.1), (75900, 7.6), (75900, 8.1), (75900, 7.2), (75900, 8.7),
    (83200, 7.8), (83200, 8.3), (83200, 7.4), (83200, 8.9), (91200, 8.0), (91200, 8.5), (91200, 7.6), (91200, 9.3),
    (100000, 8.2), (100000, 8.8), (100000, 7.7), (100000, 9.6), (100000, 10.2),
    (110000, 8.4), (110000, 9.0), (110000, 7.9), (110000, 9.8), (120000, 8.6), (120000, 9.3), (120000, 8.0), (120000, 10.4),
    (132000, 8.8), (132000, 9.5), (132000, 8.2), (132000, 10.8), (145000, 9.0), (145000, 9.8), (145000, 8.4), (145000, 11.2),
    (158000, 9.3), (158000, 10.1), (158000, 8.6),
]

reth_high_fill = [
    (7350, 5.5), (7350, 5.8), (8050, 5.35), (8050, 5.7), (8050, 6.05), (8800, 5.6), (8800, 5.95),
    (9600, 5.45), (9600, 5.8), (9600, 6.1), (10500, 5.6), (10500, 5.95), (11500, 5.5), (11500, 5.85), (11500, 6.2),
    (12600, 5.7), (12600, 6.05), (13850, 5.6), (13850, 5.95), (13850, 6.3), (15150, 5.8), (15150, 6.15),
    (16600, 5.7), (16600, 6.05), (16600, 6.4), (18200, 5.9), (18200, 6.25), (19950, 5.8), (19950, 6.15), (19950, 6.5),
    (21900, 6.0), (21900, 6.35), (24000, 5.9), (24000, 6.25), (24000, 6.6), (26300, 6.1), (26300, 6.45),
    (28850, 6.0), (28850, 6.35), (28850, 6.75), (31650, 6.25), (31650, 6.6), (34700, 6.15), (34700, 6.5), (34700, 6.9),
    (38050, 6.35), (38050, 6.75), (41750, 6.3), (41750, 6.65), (41750, 7.05), (45800, 6.5), (45800, 6.9),
    (50200, 6.45), (50200, 6.85), (50200, 7.3), (55000, 6.7), (55000, 7.1), (60300, 6.65), (60300, 7.05), (60300, 7.55),
    (66100, 6.9), (66100, 7.35), (72500, 6.85), (72500, 7.3), (72500, 7.8), (79500, 7.15), (79500, 7.6),
    (87200, 7.1), (87200, 7.55), (87200, 8.1), (95500, 7.45), (95500, 7.95), (95500, 8.5),
    (105000, 7.4), (105000, 7.9), (105000, 8.45), (105000, 9.1), (115000, 7.7), (115000, 8.2), (115000, 8.8), (115000, 9.5),
    (126000, 7.9), (126000, 8.45), (126000, 9.1), (126000, 9.8), (138000, 8.1), (138000, 8.7), (138000, 9.3), (138000, 10.1),
    (151000, 8.3), (151000, 8.9), (151000, 9.6), (151000, 10.4), (166000, 8.5), (166000, 9.2), (166000, 9.9), (166000, 10.8),
    (182000, 8.8), (182000, 9.5), (182000, 10.3), (200000, 9.0), (200000, 9.8), (200000, 10.7),
]

reth_cloud = [
    (90000, 8.0), (92000, 9.5), (95000, 11.0), (97000, 8.8), (100000, 10.2), (103000, 7.5), (106000, 9.0),
    (108000, 12.0), (111000, 8.4), (114000, 10.6), (117000, 7.8), (120000, 9.6), (123000, 11.5), (126000, 8.9),
    (130000, 10.0), (133000, 7.9), (136000, 12.4), (139000, 9.2), (142000, 10.8), (146000, 8.3), (150000, 11.8),
    (154000, 9.7), (158000, 7.6), (162000, 10.4), (166000, 8.8), (170000, 12.8), (175000, 9.9), (180000, 11.2),
    (185000, 8.5), (190000, 10.6), (196000, 7.4), (202000, 9.4), (208000, 12.0), (214000, 8.2), (220000, 10.9),
    (227000, 9.0), (234000, 13.2), (241000, 7.8), (248000, 10.0), (256000, 11.6), (264000, 8.7), (272000, 9.6),
    (280000, 12.5), (290000, 10.5), (300000, 8.6), (310000, 11.3), (320000, 9.3), (330000, 13.0), (342000, 10.1),
    (355000, 8.4), (368000, 11.9), (380000, 9.8), (395000, 12.7), (410000, 10.6),
    (98000, 9.0), (104000, 11.5), (112000, 10.1), (118000, 12.6), (125000, 10.3), (131000, 11.9), (137000, 9.6),
    (144000, 12.0), (152000, 10.5), (160000, 11.4), (168000, 9.5), (176000, 12.2), (184000, 10.0), (193000, 11.6),
    (205000, 10.3), (212000, 11.0), (224000, 12.4), (236000, 9.6), (245000, 11.2), (258000, 9.3), (268000, 10.9),
    (284000, 9.1), (296000, 11.5), (306000, 9.9), (318000, 12.2), (336000, 9.0), (350000, 11.0), (362000, 13.6),
    (375000, 10.9), (388000, 14.2), (402000, 11.8), (420000, 12.8), (440000, 11.4), (460000, 13.6), (480000, 12.4),
    (505000, 14.4), (215000, 14.0), (250000, 14.8), (285000, 15.6), (195000, 13.4), (160000, 13.2), (128000, 13.7),
    (85000, 7.2), (88000, 8.6), (94000, 7.6), (96000, 10.0), (101000, 7.0), (104000, 8.5), (107000, 9.8),
    (110000, 7.3), (113000, 9.2), (116000, 10.9), (119000, 8.3), (122000, 7.4), (124000, 9.9), (127000, 11.0),
    (129000, 8.0), (134000, 9.0), (137000, 10.6), (140000, 8.1), (143000, 11.4), (148000, 9.4), (151000, 7.9),
    (156000, 10.9), (160000, 8.9), (164000, 9.8), (169000, 8.1), (173000, 10.9), (178000, 9.2), (183000, 11.8),
    (188000, 9.0), (194000, 8.2), (199000, 10.2), (204000, 11.5), (211000, 9.8), (218000, 8.6), (226000, 10.4),
    (232000, 11.8), (239000, 8.9), (246000, 9.9), (254000, 12.2), (262000, 10.3), (270000, 8.2), (278000, 11.0),
    (288000, 9.3), (298000, 10.6), (308000, 8.1), (315000, 10.0), (325000, 11.8), (335000, 8.7),
]

#=== Style ===
fig_bg = '#f7f7f5'
ax_bg = '#fafaf9'
green = '#099c09'
orange = '#f7ac2a'
edge = '#2b2418'
grid_col = '#dcdcd8'
tick_col = '#8a8a8a'

plt.rcParams['font.family'] = ['Inter', 'DejaVu Sans']
plt.rcParams['mathtext.default'] = 'regular'

fig = plt.figure(figsize=(19.99, 10.72), dpi=100, facecolor=fig_bg)

ax_k = fig.add_axes([0.0575, 0.1483, 0.4577, 0.6045])
ax_r = fig.add_axes([0.5328, 0.1483, 0.4577, 0.6045], sharey=ax_k)

panels = [
    (ax_k, 'Keccak', [keccak_low_band, keccak_low_fill, keccak_high_band, keccak_high_fill, keccak_sparse],
     keccak_timeout, (1000, 3.9e7)),
    (ax_r, 'Reth', [reth_low_band, reth_low_fill, reth_high_band, reth_high_fill, reth_cloud, reth_sparse],
     reth_timeout, (1730, 6.7e6)),
]

for ax, name, proved_sets, timeouts, xlim in panels:
    ax.set_facecolor(ax_bg)
    proved = [p for s in proved_sets for p in s]
    px = [p[0] for p in proved]
    py = [p[1] for p in proved]
    ax.scatter(px, py, s=55, color=green, alpha=0.57, linewidths=0, zorder=2)
    tx = [p[0] for p in timeouts]
    ty = [p[1] for p in timeouts]
    ax.scatter(tx, ty, s=125, color=orange, edgecolors=edge, linewidths=1.3, zorder=3)

    ax.set_xscale('log')
    ax.set_yscale('log')
    ax.set_xlim(*xlim)
    ax.set_ylim(2.84, 363)

    ax.grid(True, which='major', color=grid_col, linewidth=1.5, zorder=0)
    ax.set_axisbelow(True)
    for side in ['top', 'right']:
        ax.spines[side].set_visible(False)
    for side in ['left', 'bottom']:
        ax.spines[side].set_color('#cfcfc9')
        ax.spines[side].set_linewidth(2)
    ax.tick_params(which='major', length=5, width=1.2, color='#bdbdb8', labelsize=18.5, labelcolor=tick_col, pad=5)
    ax.tick_params(which='minor', length=3.5, width=1.0, color='#bdbdb8')

    ax.set_xlabel('Circuit size (bytes, log scale)', fontsize=19, color='#4a4a4a', labelpad=5)
    ax.text(0, 1.052, name, transform=ax.transAxes, fontsize=25, fontweight='bold',
            color='#111111', va='center', ha='left')

ax_k.set_ylabel('Solve time (s, log scale)', fontsize=19, color='#4a4a4a', labelpad=7)
ax_r.tick_params(axis='y', which='both', labelleft=False)

#=== Title, legend, footer ===
fig.text(0.0095, 0.951, 'Timeouts track block size, not a specific optimization pass',
         fontsize=27.7, fontweight='bold', color='#111111', va='center', ha='left')

handles = [
    Line2D([], [], marker='o', linestyle='none', markersize=13, markerfacecolor=green,
           markeredgewidth=0, label='Proved (UNSAT)'),
    Line2D([], [], marker='o', linestyle='none', markersize=15, markerfacecolor=orange,
           markeredgecolor=edge, markeredgewidth=1.3, label='Timeout'),
]
fig.legend(handles=handles, loc='center right', bbox_to_anchor=(0.994, 0.963), ncol=2,
           frameon=False, fontsize=19, handletextpad=0.8, columnspacing=1.0, labelcolor='#2a2a2a')

fig.text(0.0095, 0.028, 'One point per pass-to-pass equivalence check · report-keccak-20260820-073921.db / report-reth-20260820-075110.db',
         fontsize=15.3, color='#8f8f8f', va='center', ha='left')

fig.savefig('out.png', dpi=100, facecolor=fig_bg)
